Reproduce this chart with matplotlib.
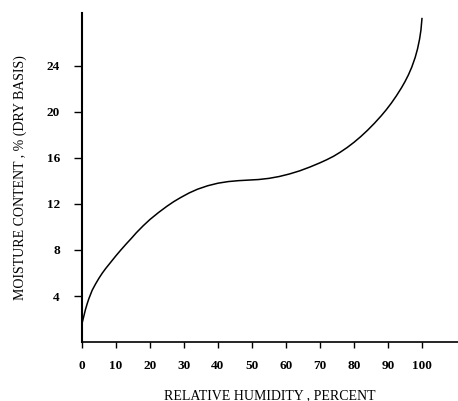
import matplotlib
matplotlib.use("Agg")
import matplotlib.pyplot as plt

# relative humidity (%) vs moisture content (% dry basis)
rh = [0, 0.5, 1, 1.5, 2, 3, 4, 5, 6, 7, 8.5, 10, 11.5, 13, 14.5, 16, 18, 20,
      22.5, 25, 27, 29, 31.5, 34, 37, 40, 43, 46, 49, 52, 55, 58, 61, 64,
      67, 70, 72, 74, 76, 78, 80, 82, 84, 86, 88, 89.5, 91, 92.5, 94, 95,
      96, 97, 98, 98.7, 99.3, 99.7, 100]
mc = [1.6, 2.2, 2.8, 3.3, 3.75, 4.5, 5.05, 5.55, 6.0, 6.4, 6.95, 7.5, 8.02,
      8.52, 9.0, 9.5, 10.1, 10.65, 11.25, 11.8, 12.2, 12.55, 12.95, 13.28,
      13.58, 13.8, 13.94, 14.02, 14.07, 14.12, 14.22, 14.38, 14.6, 14.87,
      15.2, 15.57, 15.84, 16.14, 16.5, 16.9, 17.35, 17.85, 18.4, 19.0,
      19.65, 20.18, 20.76, 21.4, 22.1, 22.62, 23.2, 23.88, 24.72, 25.47,
      26.32, 27.1, 28.1]

xticks = [0, 10, 20, 30, 40, 50, 60, 70, 80, 90, 100]
yticks = [4, 8, 12, 16, 20, 24]

plt.rcParams['font.family'] = ['Liberation Serif', 'DejaVu Serif']

fig = plt.figure(figsize=(4.58, 4.01), dpi=100)
ax = fig.add_axes([0.179, 0.147, 0.821, 0.821])

ax.plot(rh, mc, color='black', lw=1.1)

ax.set_xlim(0, 110.6)
ax.set_ylim(0, 28.6)

ax.spines['top'].set_visible(False)
ax.spines['right'].set_visible(False)
ax.spines['left'].set_linewidth(1.5)
ax.spines['bottom'].set_linewidth(1.2)

ax.set_xticks(xticks)
ax.set_xticklabels([str(v) for v in xticks], fontsize=9.5, fontweight='bold')
ax.set_yticks(yticks)
ax.set_yticklabels([str(v) for v in yticks], fontsize=9.5, fontweight='bold')
ax.tick_params(axis='x', direction='out', length=4, width=1, pad=9)
ax.tick_params(axis='y', direction='out', length=6, width=1, pad=10)

ax.set_xlabel('RELATIVE HUMIDITY , PERCENT', fontsize=10, labelpad=12)
ax.set_ylabel('MOISTURE CONTENT , % (DRY BASIS)', fontsize=10, labelpad=14)

fig.savefig('out.png', dpi=100)
